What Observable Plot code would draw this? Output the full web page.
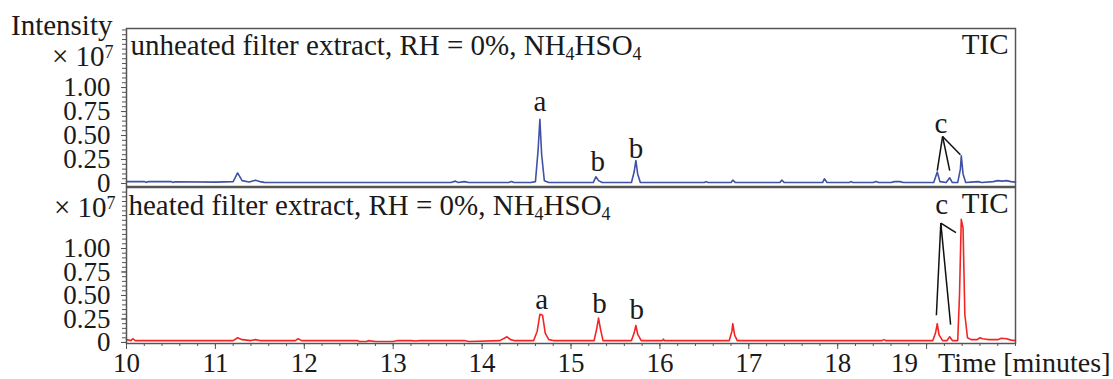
<!DOCTYPE html>
<html><head><meta charset="utf-8">
<script src="https://cdn.jsdelivr.net/npm/d3@7"></script>
<script src="https://cdn.jsdelivr.net/npm/@observablehq/plot@0.6"></script>
<style>
body{margin:0;background:#fff;}
#chart svg{display:block;overflow:visible;}
</style></head><body><div id="chart"></div>
<script>
// ---------- data ----------
const unheatedTime = [10.00,10.20,10.22,10.25,10.50,10.52,10.55,11.00,11.20,11.25,11.30,11.38,11.45,11.50,11.55,12.50,13.40,13.65,13.70,13.73,13.80,13.85,14.30,14.33,14.36,14.55,14.60,14.63,14.65,14.67,14.70,14.75,15.25,15.28,15.31,15.35,15.68,15.71,15.73,15.75,15.78,16.50,16.52,16.54,16.80,16.82,16.85,17.35,17.37,17.40,17.83,17.85,17.88,18.13,18.15,18.17,18.40,18.43,18.46,18.60,18.64,18.70,18.74,19.08,19.12,19.15,19.22,19.26,19.29,19.35,19.38,19.39,19.41,19.44,19.50,19.58,19.62,19.75,19.80,19.85,19.90,19.95,20.00];
const unheatedIntensity = [0.02,0.02,0.012,0.02,0.02,0.012,0.018,0.015,0.02,0.11,0.03,0.015,0.035,0.02,0.012,0.01,0.01,0.01,0.025,0.01,0.02,0.01,0.01,0.02,0.01,0.01,0.02,0.35,0.67,0.30,0.03,0.01,0.01,0.07,0.03,0.01,0.01,0.12,0.24,0.10,0.01,0.01,0.02,0.01,0.01,0.035,0.01,0.01,0.035,0.01,0.01,0.05,0.01,0.01,0.02,0.01,0.01,0.02,0.01,0.01,0.02,0.02,0.01,0.01,0.12,0.02,0.01,0.06,0.01,0.01,0.15,0.29,0.10,0.01,0.015,0.02,0.01,0.02,0.03,0.025,0.03,0.02,0.015];

const heatedTime = [10.00,10.05,10.07,10.10,10.20,11.20,11.25,11.30,11.40,11.45,11.50,11.90,11.93,11.97,12.60,12.62,12.70,12.72,12.80,13.00,13.05,13.20,13.25,13.30,13.80,13.85,14.20,14.28,14.32,14.36,14.58,14.62,14.65,14.68,14.71,14.75,14.80,15.26,15.29,15.31,15.33,15.36,15.68,15.71,15.73,15.75,15.79,16.03,16.04,16.05,16.78,16.81,16.82,16.84,16.87,18.50,18.52,18.54,19.07,19.10,19.12,19.14,19.18,19.23,19.26,19.29,19.35,19.37,19.39,19.41,19.43,19.46,19.50,19.57,19.60,19.63,19.67,19.70,19.80,19.84,19.90,19.95,20.00];
const heatedIntensity = [0.03,0.02,0.04,0.02,0.02,0.02,0.05,0.03,0.02,0.03,0.02,0.02,0.04,0.02,0.02,0.01,0.01,0.02,0.01,0.01,0.02,0.02,0.015,0.02,0.02,0.01,0.02,0.06,0.03,0.02,0.02,0.12,0.30,0.29,0.10,0.03,0.02,0.02,0.15,0.26,0.15,0.02,0.02,0.10,0.18,0.09,0.02,0.02,0.035,0.02,0.02,0.12,0.20,0.08,0.02,0.02,0.03,0.02,0.02,0.10,0.20,0.08,0.02,0.02,0.06,0.02,0.02,0.50,1.31,1.22,0.30,0.05,0.03,0.03,0.05,0.04,0.035,0.03,0.03,0.045,0.04,0.025,0.02];

// peak letters (time, intensity of the letter baseline)
const unheatedPeakTime = [14.65, 15.30, 15.73, 19.16];
const unheatedPeakLevel = [0.76, 0.135, 0.27, 0.53];
const unheatedPeakName = ["a", "b", "b", "c"];
const heatedPeakTime = [14.67, 15.32, 15.74, 19.17];
const heatedPeakLevel = [0.36, 0.31, 0.255, 1.37];
const heatedPeakName = ["a", "b", "b", "c"];

// leader lines from the "c" label
const unheatedLeaderFrom = [19.18, 0.49];
const unheatedLeaderToTime = [19.12, 19.26, 19.38];
const unheatedLeaderToLevel = [0.135, 0.135, 0.30];
const heatedLeaderFrom = [19.16, 1.27];
const heatedLeaderToTime = [19.11, 19.27, 19.33];
const heatedLeaderToLevel = [0.29, 0.19, 1.17];

// axes
const yTickValues = [0, 0.25, 0.5, 0.75, 1.0];
const yTickLabels = ["0", "0.25", "0.50", "0.75", "1.00"];
const yMinorTicks = d3.range(0, 1.601, 0.05);
const xTickValues = [10, 11, 12, 13, 14, 15, 16, 17, 18, 19];
const xLabelValues = [10, 11, 12, 13, 14, 15, 16, 17, 18];
const xTickLabels = ["10", "11", "12", "13", "14", "15", "16", "17", "18"];
const xShiftedLabel = ["19"];
const xMinorTicks = d3.range(10, 20.001, 0.2);

// texts
const panelTitles = ["unheated filter extract, RH = 0%, NH_4HSO_4", "heated filter extract, RH = 0%, NH_4HSO_4"];
const traceLabel = "TIC";
const yUnitLabel = "× 10^7";
const yAxisTitle = "Intensity";
const xAxisTitle = "Time [minutes]";

// ---------- rendering ----------
const FONT = "'Liberation Serif','Times New Roman',serif";
const BLUE = "#4152a6";
const RED = "#f52424";
const INK = "#1a1a1a";
const yLabelMap = new Map(yTickValues.map((v, i) => [v, yTickLabels[i]]));
const xLabelMap = new Map(xLabelValues.map((v, i) => [v, xTickLabels[i]]));
const rows = (t, v) => t.map((d, i) => ({t: d, v: v[i]}));
const peaks = (t, v, n) => t.map((d, i) => ({t: d, v: v[i], n: n[i]}));
const leaders = (from, t, v) => t.map((d, i) => ({x1: from[0], y1: from[1], x2: d, y2: v[i]}));

const common = {
  width: 1113,
  marginLeft: 126,
  marginRight: 98,
  style: {fontFamily: FONT, fontSize: "27px", color: INK, background: "transparent", overflow: "visible"}
};

function yAxes() {
  return [
    Plot.axisY(yMinorTicks, {tickSize: 4, fill: "none", stroke: "#555", label: null}),
    Plot.axisY(yTickValues, {tickSize: 5, tickPadding: 11, tickFormat: d => yLabelMap.get(d), label: null, fontSize: 27, stroke: "#555", fill: INK})
  ];
}

const topPlot = Plot.plot({
  ...common,
  height: 187,
  marginTop: 28,
  marginBottom: 1,
  x: {domain: [10, 20], axis: null},
  y: {domain: [-0.031, 1.615]},
  marks: [
    ...yAxes(),
    Plot.line(rows(unheatedTime, unheatedIntensity), {x: "t", y: "v", stroke: BLUE, strokeWidth: 1.6}),
    Plot.text(peaks(unheatedPeakTime, unheatedPeakLevel, unheatedPeakName), {x: "t", y: "v", text: "n", lineAnchor: "bottom", fontSize: 29, fill: INK}),
    Plot.link(leaders(unheatedLeaderFrom, unheatedLeaderToTime, unheatedLeaderToLevel), {x1: "x1", y1: "y1", x2: "x2", y2: "y2", stroke: "#111", strokeWidth: 1.5}),
    Plot.text([panelTitles[0]], {frameAnchor: "top-left", textAnchor: "start", lineAnchor: "top", dx: 4, dy: 6, fontSize: 29, fill: INK}),
    Plot.text([traceLabel], {frameAnchor: "top-right", textAnchor: "end", lineAnchor: "top", dx: -7, dy: 5, fontSize: 29, fill: INK}),
    Plot.text([yAxisTitle], {frameAnchor: "top-left", textAnchor: "end", lineAnchor: "top", dx: -14, dy: -14, fontSize: 29, fill: INK}),
    Plot.text([yUnitLabel], {frameAnchor: "top-left", textAnchor: "end", lineAnchor: "top", dx: -13, dy: 17, fontSize: 29, fill: INK}),
    Plot.frame({stroke: "#555", strokeWidth: 1.5})
  ]
});

const bottomPlot = Plot.plot({
  ...common,
  height: 192,
  marginTop: 0,
  marginBottom: 36,
  x: {domain: [10, 20]},
  y: {domain: [-0.011, 1.649]},
  marks: [
    ...yAxes(),
    Plot.axisX(xMinorTicks, {tickSize: 3, fill: "none", stroke: "#555", label: null}),
    Plot.axisX(xTickValues, {tickSize: 6, fill: "none", stroke: "#555", label: null}),
    Plot.axisX(xLabelValues, {tickSize: 0, tickPadding: 9, tickFormat: d => xLabelMap.get(d), label: null, fontSize: 27, fill: INK}),
    Plot.text(xShiftedLabel, {x: [19], frameAnchor: "bottom", lineAnchor: "top", dy: 9, dx: -22, fontSize: 27, fill: INK}),
    Plot.text([xAxisTitle], {frameAnchor: "bottom-right", textAnchor: "end", lineAnchor: "top", dy: 9, dx: 95, fontSize: 28, fill: INK}),
    Plot.line(rows(heatedTime, heatedIntensity), {x: "t", y: "v", stroke: RED, strokeWidth: 1.6}),
    Plot.text(peaks(heatedPeakTime, heatedPeakLevel, heatedPeakName), {x: "t", y: "v", text: "n", lineAnchor: "bottom", fontSize: 29, fill: INK}),
    Plot.link(leaders(heatedLeaderFrom, heatedLeaderToTime, heatedLeaderToLevel), {x1: "x1", y1: "y1", x2: "x2", y2: "y2", stroke: "#111", strokeWidth: 1.5}),
    Plot.text([panelTitles[1]], {frameAnchor: "top-left", textAnchor: "start", lineAnchor: "top", dx: 2, dy: 7, fontSize: 29, fill: INK}),
    Plot.text([traceLabel], {frameAnchor: "top-right", textAnchor: "end", lineAnchor: "top", dx: -7, dy: 5, fontSize: 29, fill: INK}),
    Plot.text([yUnitLabel], {frameAnchor: "top-left", textAnchor: "end", lineAnchor: "top", dx: -11, dy: 9, fontSize: 29, fill: INK}),
    Plot.frame({stroke: "#555", strokeWidth: 1.5})
  ]
});

// rich text: "_x" subscript, "^x" superscript
function richText(svg) {
  d3.select(svg).selectAll("text").each(function () {
    const el = this;
    if (el.querySelector("tspan")) return;
    const s = el.textContent;
    if (!/[_^]/.test(s)) return;
    el.textContent = "";
    const parts = s.split(/([_^].)/);
    parts.forEach(p => {
      if (!p) return;
      const t = document.createElementNS("http://www.w3.org/2000/svg", "tspan");
      if (p[0] === "_" || p[0] === "^") {
        t.setAttribute("font-size", "62%");
        t.setAttribute("baseline-shift", p[0] === "_" ? "-30%" : "45%");
        t.textContent = p[1];
      } else {
        t.textContent = p;
      }
      el.appendChild(t);
    });
  });
}
richText(topPlot);
richText(bottomPlot);

document.getElementById("chart").append(topPlot, bottomPlot);
</script>
</body></html>
